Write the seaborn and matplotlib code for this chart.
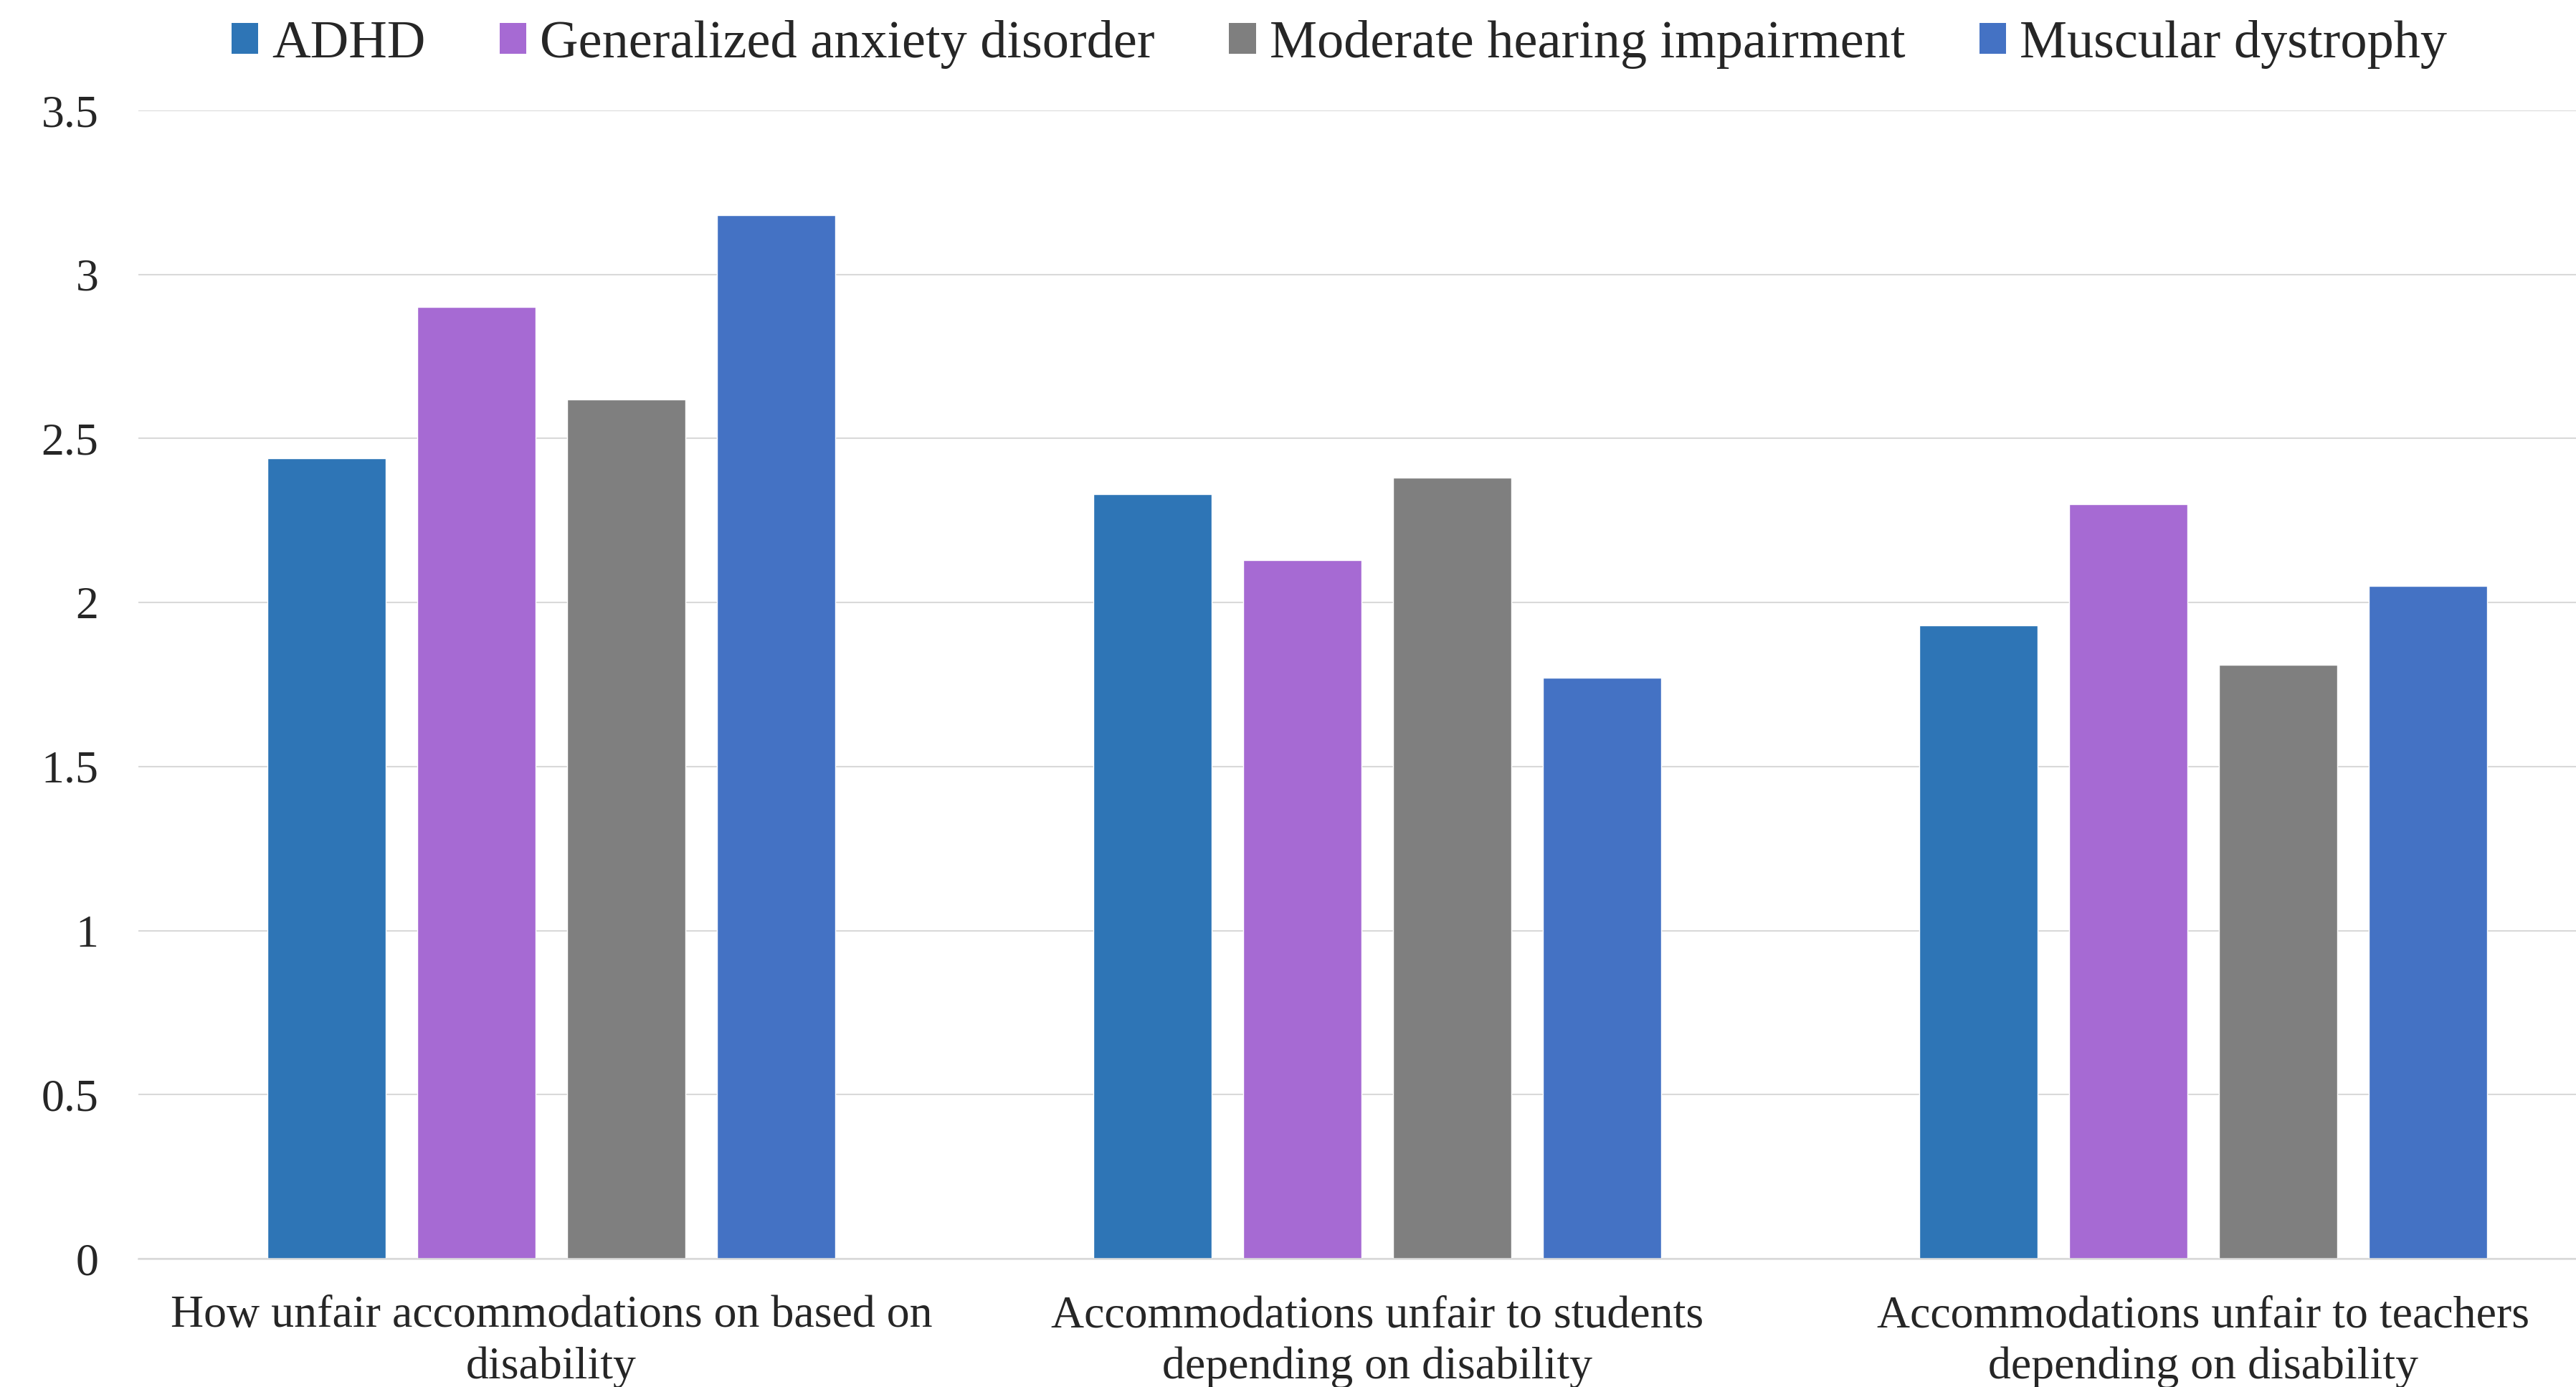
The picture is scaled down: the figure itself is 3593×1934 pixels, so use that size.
import matplotlib
matplotlib.use("Agg")
import matplotlib.pyplot as plt
from matplotlib.patches import Patch
from matplotlib.ticker import FuncFormatter, MultipleLocator
import seaborn as sns
import pandas as pd

categories = [
    "How unfair accommodations on based on disability",
    "Accommodations unfair to students depending on disability",
    "Accommodations unfair to teachers depending on disability",
]
tick_labels = [
    "How unfair accommodations on based on\ndisability",
    "Accommodations unfair to students\ndepending on disability",
    "Accommodations unfair to teachers\ndepending on disability",
]
series = ["ADHD", "Generalized anxiety disorder", "Moderate hearing impairment", "Muscular dystrophy"]
adhd = [2.44, 2.33, 1.93]
gad = [2.90, 2.13, 2.30]
mhi = [2.62, 2.38, 1.81]
md = [3.18, 1.77, 2.05]
colors = ["#2E75B6", "#A66AD3", "#7F7F7F", "#4472C4"]

rows = []
for name, vals in zip(series, [adhd, gad, mhi, md]):
    for c, v in zip(categories, vals):
        rows.append({"category": c, "series": name, "value": v})
df = pd.DataFrame(rows)

sns.set_style("white")
plt.rcParams["font.family"] = ["Liberation Serif", "DejaVu Serif"]

W, H = 3593, 1934
fig = plt.figure(figsize=(W / 100, H / 100), dpi=100)
ax = fig.add_axes([193 / W, 179 / H, 3456 / W, 1601 / H])

sns.barplot(data=df, x="category", y="value", hue="series", order=categories,
            hue_order=series, palette=colors, saturation=1, width=0.7257, gap=0.215,
            ax=ax, legend=False, errorbar=None)

ax.set_ylim(0, 3.5)
ax.set_xlim(-0.5, 2.5)
ax.yaxis.set_major_locator(MultipleLocator(0.5))
ax.yaxis.set_major_formatter(FuncFormatter(lambda v, p: f"{v:g}"))
ax.set_xticks(range(len(categories)))
ax.set_xticklabels(tick_labels, fontsize=46, linespacing=1.3)
ax.tick_params(axis="y", labelsize=46, length=0, pad=40)
ax.tick_params(axis="x", length=0, pad=37)
ax.set_xlabel("")
ax.set_ylabel("")
ax.yaxis.grid(True, color="#D9D9D9", linewidth=1.5)
ax.set_axisbelow(True)
for s in ["top", "right", "left"]:
    ax.spines[s].set_visible(False)
ax.spines["bottom"].set_color("#D9D9D9")
ax.spines["bottom"].set_linewidth(1.8)

handles = [Patch(facecolor=c, edgecolor="none") for c in colors]
fig.legend(handles, series, loc="center", bbox_to_anchor=(1868 / W, 1 - 62 / H), ncol=4,
           frameon=False, fontsize=53.5, handlelength=0.5, handleheight=0.52,
           handletextpad=0.26, columnspacing=1.39, borderaxespad=0, borderpad=0)

fig.savefig("out.png", dpi=100)
